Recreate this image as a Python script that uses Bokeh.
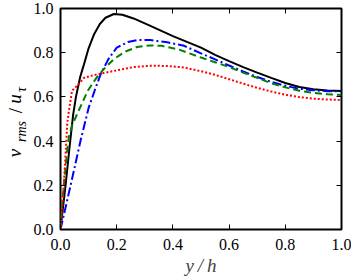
import math
from bokeh.plotting import figure
from bokeh.layouts import row
from bokeh.models import Range1d, FixedTicker, LinearAxis, PrintfTickFormatter
from bokeh.core.properties import value
from bokeh.embed import file_html
from bokeh.resources import INLINE

# Wall-normal velocity fluctuation profiles, v_rms/u_tau against y/h
black_x = [0.0, 0.008, 0.018, 0.032, 0.045, 0.055, 0.07, 0.083, 0.10, 0.12, 0.14, 0.16,
           0.19, 0.22, 0.26, 0.32, 0.40, 0.50, 0.55, 0.60, 0.65, 0.70, 0.75, 0.80,
           0.85, 0.90, 0.95, 1.0]
black_v = [0.0, 0.09, 0.2, 0.37, 0.52, 0.60, 0.69, 0.745, 0.82, 0.885, 0.93, 0.958,
           0.975, 0.972, 0.955, 0.921, 0.875, 0.823, 0.79, 0.762, 0.735, 0.71, 0.686, 0.663,
           0.645, 0.635, 0.629, 0.627]

blue_x = [0.0, 0.036, 0.071, 0.10, 0.122, 0.142, 0.17, 0.20, 0.24, 0.273, 0.32, 0.38,
          0.44, 0.50, 0.55, 0.60, 0.65, 0.70, 0.75, 0.80, 0.85, 0.90, 0.95, 1.0]
blue_v = [0.0, 0.2, 0.40, 0.55, 0.63, 0.70, 0.77, 0.823, 0.848, 0.857, 0.857, 0.847,
          0.831, 0.797, 0.77, 0.742, 0.715, 0.69, 0.668, 0.65, 0.637, 0.63, 0.626, 0.625]

green_x = [0.0, 0.005, 0.012, 0.024, 0.03, 0.041, 0.062, 0.081, 0.097, 0.125, 0.154,
           0.19, 0.23, 0.273, 0.32, 0.36, 0.42, 0.50, 0.55, 0.60, 0.65, 0.70, 0.75,
           0.80, 0.85, 0.90, 0.95, 1.0]
green_v = [0.0, 0.1, 0.2, 0.36, 0.42, 0.47, 0.531, 0.583, 0.628, 0.681, 0.726,
           0.771, 0.805, 0.826, 0.833, 0.831, 0.815, 0.778, 0.757, 0.735, 0.71, 0.686, 0.662,
           0.643, 0.628, 0.618, 0.612, 0.609]

red_x = [0.0, 0.006, 0.012, 0.018, 0.024, 0.03, 0.041, 0.065, 0.083, 0.107, 0.154,
         0.207, 0.26, 0.32, 0.38, 0.44, 0.50, 0.55, 0.60, 0.65, 0.70, 0.75, 0.80,
         0.85, 0.90, 0.95, 1.0]
red_v = [0.0, 0.103, 0.208, 0.34, 0.478, 0.538, 0.628, 0.658, 0.686, 0.695, 0.708,
         0.722, 0.735, 0.741, 0.740, 0.733, 0.716, 0.70, 0.68, 0.66, 0.641, 0.624, 0.61,
         0.599, 0.592, 0.588, 0.586]

ticks = [0.0, 0.2, 0.4, 0.6, 0.8, 1.0]

SERIF = "Liberation Serif"
H = 278
SIDE_W = 28
TOP, BOTTOM = 8, 49
FRAME_H = H - TOP - BOTTOM

p = figure(frame_width=281, frame_height=FRAME_H, output_backend="svg",
           toolbar_location=None, x_range=Range1d(0, 1), y_range=Range1d(0, 1),
           min_border_left=60 - SIDE_W, min_border_right=10, min_border_top=TOP,
           min_border_bottom=BOTTOM)
p.background_fill_color = "white"
p.border_fill_color = "white"
p.grid.visible = False
p.outline_line_color = "black"
p.outline_line_width = 2

p.line(black_x, black_v, line_color="black", line_width=2)
p.line(blue_x, blue_v, line_color="#0000ff", line_width=2, line_dash="9 3 2 3")
p.line(green_x, green_v, line_color="#008000", line_width=2, line_dash="7 4")
p.line(red_x, red_v, line_color="#ff0000", line_width=2, line_dash="2 2")

bottom = p.xaxis[0]
left = p.yaxis[0]
top = LinearAxis()
right = LinearAxis()
p.add_layout(top, "above")
p.add_layout(right, "right")

for ax in [bottom, left, top, right]:
    ax.ticker = FixedTicker(ticks=ticks)
    ax.formatter = PrintfTickFormatter(format="%.1f")
    ax.axis_line_color = None
    ax.major_tick_in = 5
    ax.major_tick_out = 0
    ax.major_tick_line_color = "black"
    ax.major_tick_line_width = 1
    ax.minor_tick_line_color = None
    ax.major_label_text_font = SERIF
    ax.major_label_text_font_size = "16px"
    ax.major_label_text_color = "black"

# top and right carry tick marks only
for ax in [top, right]:
    ax.major_label_text_color = None
    ax.major_label_text_font_size = "1px"
    ax.major_label_standoff = 0

bottom.major_label_standoff = 9
left.major_label_standoff = 7

bottom.axis_label = "y\u2009/\u2009h"
bottom.axis_label_text_font = SERIF
bottom.axis_label_text_font_style = "italic"
bottom.axis_label_text_font_size = "19px"
bottom.axis_label_standoff = 2

# narrow strip on the left holding the rotated y title v_rms / u_tau;
# its frame spans the same rows as the main frame, ranges in pixels,
# each piece placed by its centre
side = figure(frame_width=SIDE_W, frame_height=FRAME_H, output_backend="svg",
              toolbar_location=None, x_range=Range1d(0, SIDE_W),
              y_range=Range1d(BOTTOM, H - TOP), min_border_left=0, min_border_right=0,
              min_border_top=TOP, min_border_bottom=BOTTOM,
              x_axis_location=None, y_axis_location=None, title=None)
side.grid.visible = False
side.outline_line_color = None
side.background_fill_color = "white"
side.border_fill_color = "white"

ang = math.pi / 2
title_pieces = [
    ("v", 13.5, H - 152.5, "19px", "italic"),
    ("rms", 20.5, H - 131, "14px", "italic"),
    ("/", 14.5, H - 110, "19px", "normal"),
    ("u", 13.5, H - 98.5, "19px", "italic"),
    ("\u03c4", 20.5, H - 89, "14px", "italic"),
]
for txt, tx, ty, size, style in title_pieces:
    side.text(x=[tx], y=[ty], text=[txt], angle=ang, text_font=value(SERIF),
              text_font_size=value(size), text_font_style=style, text_align="center",
              text_baseline="middle", text_color="black")

layout = row(side, p, spacing=0)
open("out.html", "w").write(file_html(layout, INLINE))
